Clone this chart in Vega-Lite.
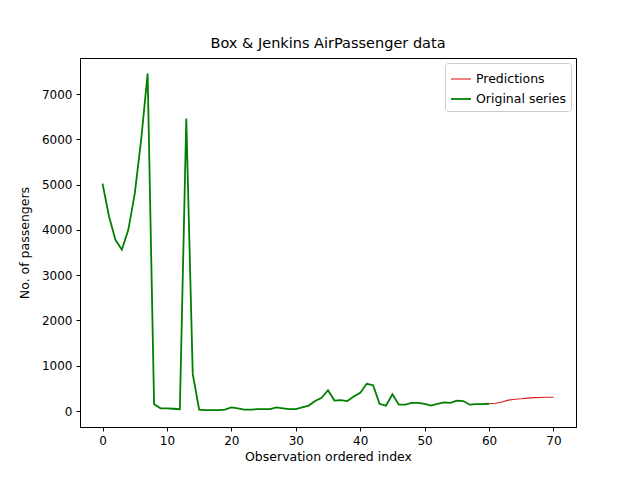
{
  "$schema": "https://vega.github.io/schema/vega-lite/v6.json",
  "width": 496,
  "height": 369,
  "padding": {"left": 80, "top": 58, "right": 64, "bottom": 53},
  "autosize": "none",
  "title": {"text": "Box & Jenkins AirPassenger data", "font": "DejaVu Sans", "fontSize": 14.5, "fontWeight": "normal", "offset": 7},
  "data": {"values": [
    {"i":0,"v":5020,"s":"Original series"},{"i":1,"v":4300,"s":"Original series"},{"i":2,"v":3780,"s":"Original series"},{"i":3,"v":3560,"s":"Original series"},{"i":4,"v":4000,"s":"Original series"},{"i":5,"v":4800,"s":"Original series"},{"i":6,"v":6000,"s":"Original series"},{"i":7,"v":7450,"s":"Original series"},{"i":8,"v":150,"s":"Original series"},{"i":9,"v":60,"s":"Original series"},{"i":10,"v":60,"s":"Original series"},{"i":11,"v":50,"s":"Original series"},{"i":12,"v":40,"s":"Original series"},{"i":13,"v":6460,"s":"Original series"},{"i":14,"v":820,"s":"Original series"},{"i":15,"v":30,"s":"Original series"},{"i":16,"v":20,"s":"Original series"},{"i":17,"v":20,"s":"Original series"},{"i":18,"v":20,"s":"Original series"},{"i":19,"v":30,"s":"Original series"},{"i":20,"v":80,"s":"Original series"},{"i":21,"v":60,"s":"Original series"},{"i":22,"v":30,"s":"Original series"},{"i":23,"v":30,"s":"Original series"},{"i":24,"v":40,"s":"Original series"},{"i":25,"v":40,"s":"Original series"},{"i":26,"v":40,"s":"Original series"},{"i":27,"v":80,"s":"Original series"},{"i":28,"v":60,"s":"Original series"},{"i":29,"v":40,"s":"Original series"},{"i":30,"v":40,"s":"Original series"},{"i":31,"v":80,"s":"Original series"},{"i":32,"v":120,"s":"Original series"},{"i":33,"v":220,"s":"Original series"},{"i":34,"v":290,"s":"Original series"},{"i":35,"v":460,"s":"Original series"},{"i":36,"v":230,"s":"Original series"},{"i":37,"v":240,"s":"Original series"},{"i":38,"v":220,"s":"Original series"},{"i":39,"v":320,"s":"Original series"},{"i":40,"v":400,"s":"Original series"},{"i":41,"v":600,"s":"Original series"},{"i":42,"v":570,"s":"Original series"},{"i":43,"v":160,"s":"Original series"},{"i":44,"v":120,"s":"Original series"},{"i":45,"v":370,"s":"Original series"},{"i":46,"v":140,"s":"Original series"},{"i":47,"v":140,"s":"Original series"},{"i":48,"v":180,"s":"Original series"},{"i":49,"v":180,"s":"Original series"},{"i":50,"v":160,"s":"Original series"},{"i":51,"v":120,"s":"Original series"},{"i":52,"v":160,"s":"Original series"},{"i":53,"v":190,"s":"Original series"},{"i":54,"v":180,"s":"Original series"},{"i":55,"v":230,"s":"Original series"},{"i":56,"v":220,"s":"Original series"},{"i":57,"v":140,"s":"Original series"},{"i":58,"v":150,"s":"Original series"},{"i":59,"v":150,"s":"Original series"},{"i":60,"v":160,"s":"Original series"},
    {"i":60,"v":160,"s":"Predictions"},{"i":61,"v":170,"s":"Predictions"},{"i":62,"v":200,"s":"Predictions"},{"i":63,"v":240,"s":"Predictions"},{"i":64,"v":260,"s":"Predictions"},{"i":65,"v":270,"s":"Predictions"},{"i":66,"v":285,"s":"Predictions"},{"i":67,"v":295,"s":"Predictions"},{"i":68,"v":300,"s":"Predictions"},{"i":69,"v":305,"s":"Predictions"},{"i":70,"v":305,"s":"Predictions"}
  ]},
  "mark": {"type": "line", "clip": true},
  "encoding": {
    "x": {"field": "i", "type": "quantitative", "title": "Observation ordered index",
      "scale": {"domain": [-3.5, 73.5], "nice": false, "zero": false},
      "axis": {"values": [0,10,20,30,40,50,60,70], "grid": false, "format": "d"}},
    "y": {"field": "v", "type": "quantitative", "title": "No. of passengers",
      "scale": {"domain": [-353, 7795], "nice": false},
      "axis": {"values": [0,1000,2000,3000,4000,5000,6000,7000], "grid": false, "format": "d"}},
    "color": {"field": "s", "type": "nominal", "title": null,
      "scale": {"domain": ["Predictions", "Original series"], "range": ["#e41a1c", "#007f00"]},
      "legend": {"orient": "top-right", "symbolType": "stroke", "symbolStrokeWidth": 1.6, "labelFontSize": 12.5, "labelFont": "DejaVu Sans", "strokeColor": "#cccccc", "fillColor": "white", "padding": 5, "cornerRadius": 3, "offset": 5, "symbolSize": 400}},
    "strokeWidth": {"field": "s", "type": "nominal", "scale": {"domain": ["Predictions", "Original series"], "range": [1.1, 1.8]}, "legend": null},
    "order": {"field": "i", "type": "quantitative"}
  },
  "config": {
    "view": {"stroke": "black", "strokeWidth": 1},
    "axis": {"labelFont": "DejaVu Sans", "titleFont": "DejaVu Sans", "labelFontSize": 12, "titleFontSize": 12.5, "titleFontWeight": "normal", "labelColor": "black", "titleColor": "black", "domainColor": "black", "tickColor": "black", "tickSize": 4, "labelPadding": 4},
    "axisY": {"titlePadding": 10}
  }
}
